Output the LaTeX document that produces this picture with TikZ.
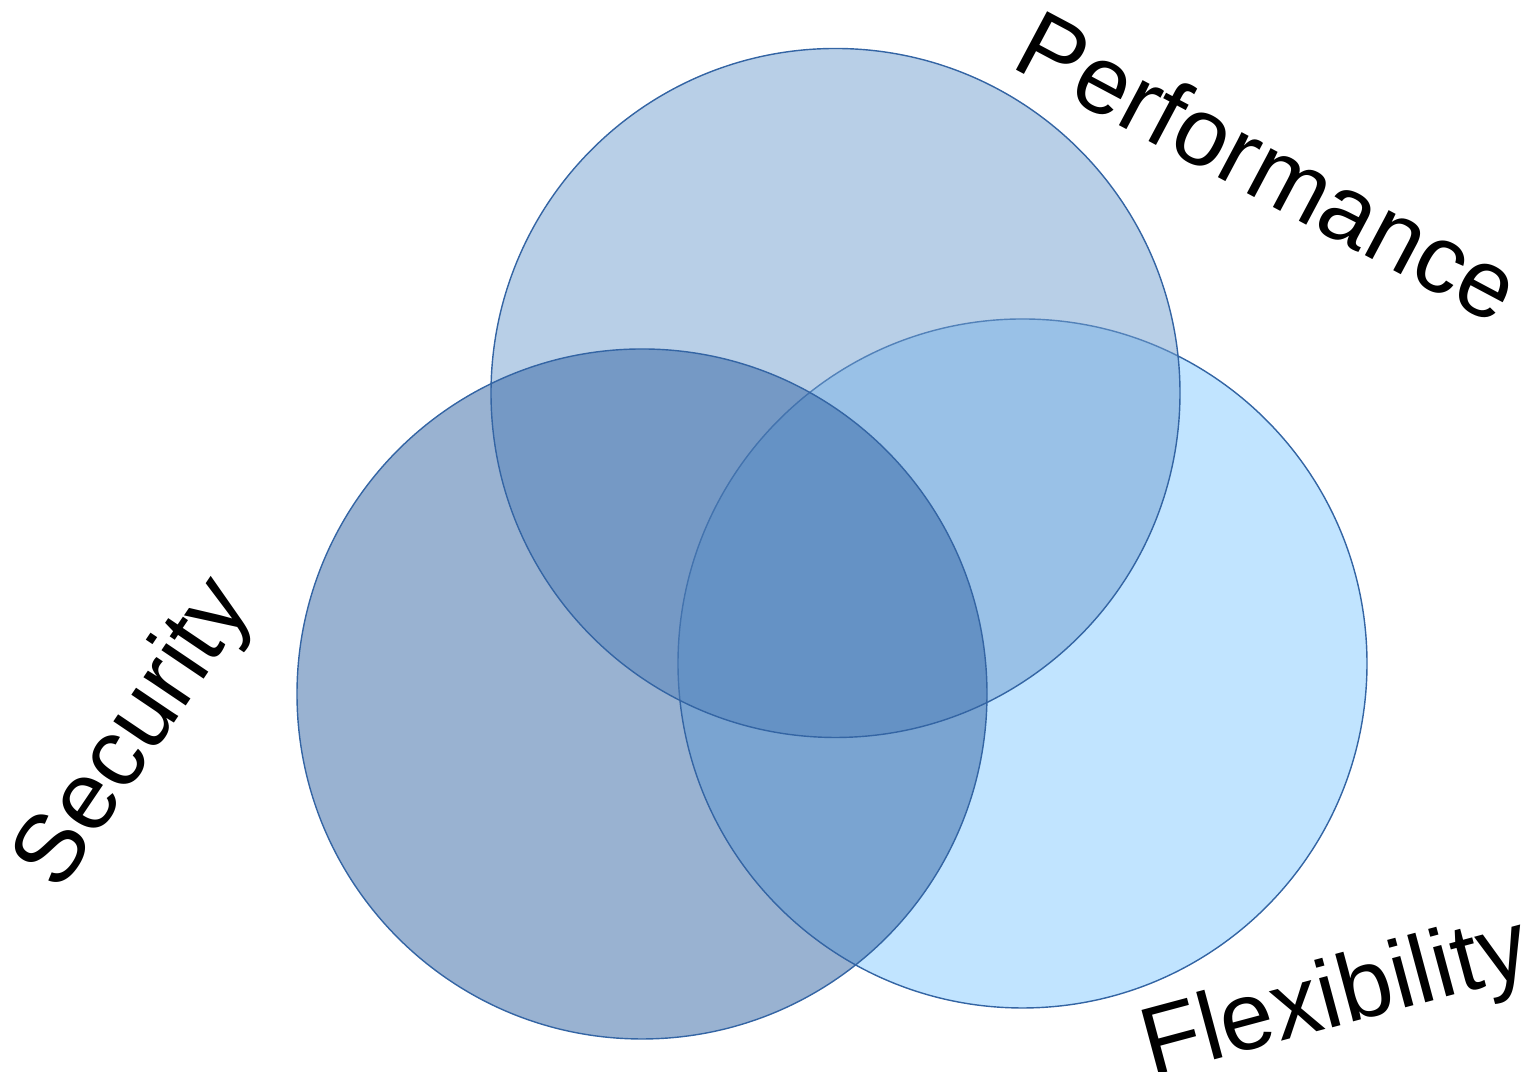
\documentclass[tikz,border=0pt]{standalone}
\usepackage{fontspec}
\setmainfont{Liberation Sans}
\usetikzlibrary{positioning}
\definecolor{skyblue}{HTML}{83CAFF}
\definecolor{midblue}{HTML}{729FCF}
\definecolor{darkblue}{HTML}{3465A4}
\begin{document}
\begin{tikzpicture}[bubble/.style={draw=darkblue,line width=0.4pt,fill opacity=0.5},
    label/.style={inner sep=0pt,font=\fontsize{27.4}{30}\selectfont}]
            \useasboundingbox (0,0) rectangle (15.29,10.72);
            % flexibility first, then performance, security on top
            \fill [bubble,fill=skyblue] (10.225,4.085) coordinate (flex) circle (3.445);
            \fill [bubble,fill=midblue] (8.355,6.79) coordinate (perf) circle (3.445);
            \fill [bubble,fill=darkblue] (6.42,3.78) coordinate (sec) circle (3.45);
            \node [label,rotate=-28] (perflabel) at (12.69,9.06) {Performance};
            \node [label,rotate=56] (seclabel) at (1.36,3.37) {Security};
            \node [label,rotate=15] (flexlabel) at (13.36,0.71) {Flexibility};
        \end{tikzpicture}
\end{document}
